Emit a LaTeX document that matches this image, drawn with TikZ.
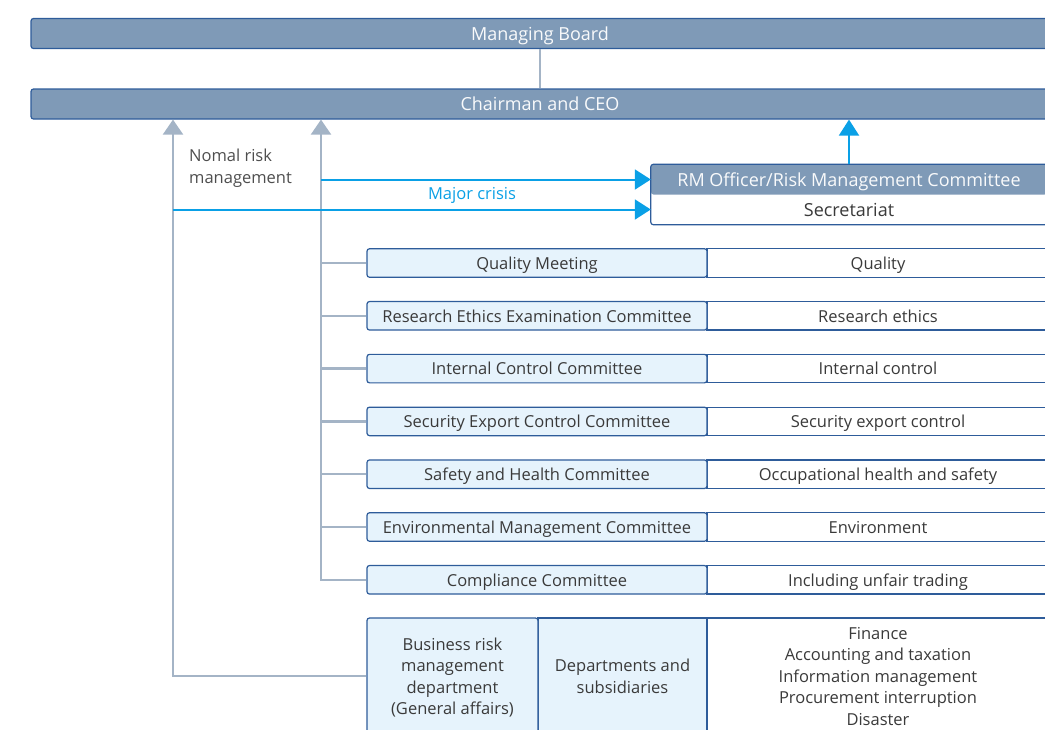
\documentclass[tikz,border=0pt]{standalone}
\usepackage{fontspec}
\setmainfont{Open Sans}
\usepackage{tikz}
\usetikzlibrary{arrows.meta,positioning,calc}
\definecolor{barblue}{HTML}{7F9AB7}
\definecolor{edgeblue}{HTML}{2E5C9A}
\definecolor{paleblue}{HTML}{E6F3FC}
\definecolor{linkgray}{HTML}{A4B4C6}
\definecolor{crisisblue}{HTML}{0AA0E6}
\definecolor{txtgray}{HTML}{3A3A3A}

\begin{document}
\begin{tikzpicture}[x=1pt,y=-1pt,
  every node/.style={font=\fontsize{16.5}{21.5}\selectfont, text=txtgray, inner sep=0pt, text depth=0pt},
  bar/.style={draw=edgeblue, fill=barblue, line width=1.2pt, rounded corners=2.5pt,
    minimum width=1018pt, minimum height=30pt, text=white!95!barblue, font=\fontsize{18}{22}\selectfont},
  bodycell/.style={draw=edgeblue, fill=paleblue, line width=1.2pt, rounded corners=2.5pt,
    minimum width=340pt, minimum height=28.5pt},
  areacell/.style={draw=edgeblue, fill=white, line width=1.2pt,
    minimum width=342pt, minimum height=28.5pt},
  link/.style={draw=linkgray, line width=2.3pt},
  uptip/.style={-{Triangle[width=20pt,length=15pt]}},
  crisis/.style={draw=crisisblue, line width=2pt, -{Triangle[width=20pt,length=16pt]}}]
\clip (0,0) rectangle (1045,729);

% top of the chart
\node[bar] (board) at (540,33.5) {Managing Board};
\node[bar] (ceo) at (540,104) {Chairman and CEO};
\draw[link] (board.south) -- (ceo.north);

\coordinate (outer) at (173,0);
\coordinate (inner) at (321,0);

% risk management committee
\node[fill=barblue, rounded corners=2.5pt, minimum width=396pt, minimum height=30pt,
  text=white!95!barblue, font=\fontsize{18}{22}\selectfont] (rm) at (849,179.5)
  {RM Officer/Risk Management Committee};
\node[fill=white, minimum width=396pt, minimum height=30pt, font=\fontsize{18}{22}\selectfont]
  (sec) at (849,209.5) {Secretariat};
\draw[edgeblue, line width=1.2pt, rounded corners=2.5pt] (rm.north west) rectangle (sec.south east);

% committees
\foreach \key/\body/\area [count=\i from 0] in {
  quality/Quality Meeting/Quality,
  ethics/Research Ethics Examination Committee/Research ethics,
  control/Internal Control Committee/Internal control,
  export/Security Export Control Committee/Security export control,
  safety/Safety and Health Committee/Occupational health and safety,
  envir/Environmental Management Committee/Environment,
  compliance/Compliance Committee/Including unfair trading}
{
  \node[areacell] (\key-area) at (878,263+52.8*\i) {\area};
  \node[bodycell] (\key) at (537,263+52.8*\i) {\body};
}

% departments
\node[areacell, minimum height=116pt, align=center] (risks) at (878,676)
  {Finance\\Accounting and taxation\\Information management\\Procurement interruption\\Disaster};
\node[bodycell, minimum width=169pt, minimum height=116pt, rounded corners=0pt, align=center]
  (depts) at (622.5,676) {Departments and\\subsidiaries};
\node[bodycell, minimum width=171pt, minimum height=116pt, align=center]
  (bizrisk) at (452.5,676) {Business risk\\management\\department\\(General affairs)};

% reporting lines
\foreach \key in {quality,ethics,control,export,safety,envir}
  \draw[link] (\key.west) -- (\key.west -| inner);
\draw[link, uptip] (compliance.west) -| (inner |- ceo.south);
\draw[link, uptip] (bizrisk.west) -| (outer |- ceo.south);

\node[anchor=west, align=left, text=txtgray!90] (normal) at (189,166) {Nomal risk\\management};
\node[text=crisisblue] (major) at (472,193) {Major crisis};

\draw[crisis] (inner |- rm.west) -- (rm.west);
\draw[crisis] (outer |- sec.west) -- (sec.west);
\draw[crisis] (rm.north) -- (rm.north |- ceo.south);
\end{tikzpicture}
\end{document}
